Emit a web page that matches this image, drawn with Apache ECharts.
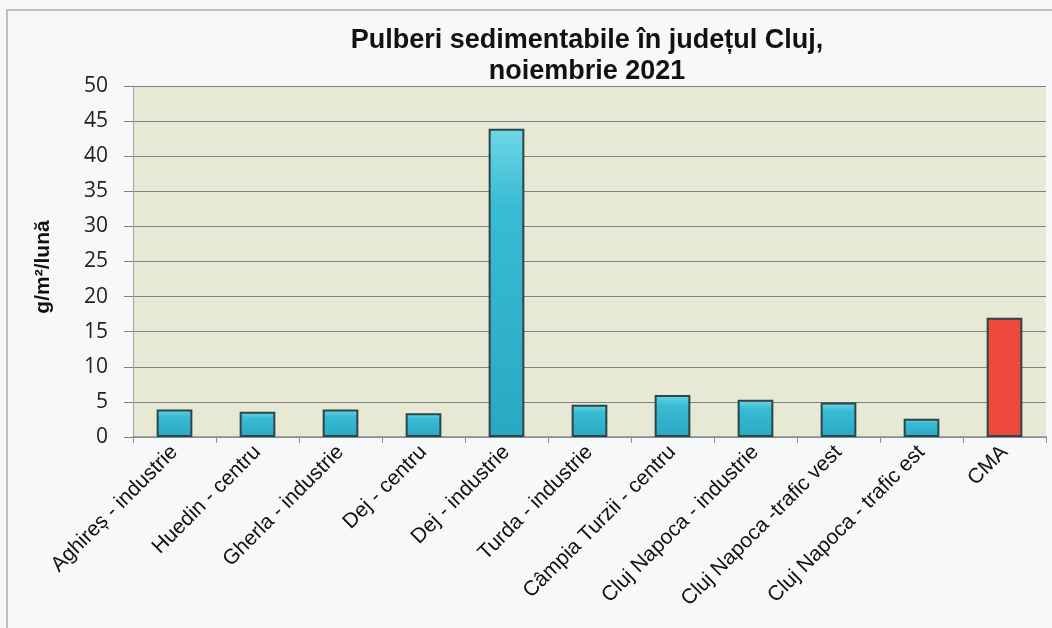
<!DOCTYPE html>
<html lang="ro">
<head>
    <meta charset="UTF-8">
    <title>Pulberi sedimentabile</title>
    <style>
        *{margin: 0; padding: 0;}
        body,html{width: 100%; height: 100%; background: #f7f8fa;}
        #chart{width: 1052px; height: 628px;}
    </style>
</head>
<body>
<div id="chart"></div>
<script src="https://cdn.jsdelivr.net/npm/echarts@6/dist/echarts.min.js"></script>
<script>
var stations = ['Aghireș - industrie', 'Huedin - centru', 'Gherla - industrie', 'Dej - centru',
    'Dej - industrie', 'Turda - industrie', 'Câmpia Turzii - centru', 'Cluj Napoca - industrie',
    'Cluj Napoca -trafic vest', 'Cluj Napoca - trafic est', 'CMA'];
var values = [3.9, 3.6, 3.9, 3.4, 43.9, 4.6, 6.0, 5.3, 4.9, 2.6, 17];
var yTicks = [0, 5, 10, 15, 20, 25, 30, 35, 40, 45, 50];

var cyan = new echarts.graphic.LinearGradient(0, 0, 0, 1, [
    {offset: 0, color: '#6fd6e6'},
    {offset: 0.25, color: '#38bcd3'},
    {offset: 1, color: '#2aa8c2'}
]);

var barData = [];
for (var i = 0; i < values.length; i++) {
    barData.push({
        value: values[i],
        itemStyle: stations[i] === 'CMA' ? {color: '#ee4a3b'} : {color: cyan}
    });
}

var option = {
    animation: false,
    title: {
        text: 'Pulberi sedimentabile în județul Cluj,\nnoiembrie 2021',
        left: 582,
        top: 20,
        textAlign: 'center',
        textStyle: {
            fontFamily: 'Liberation Sans',
            fontWeight: 'bold',
            fontSize: 27,
            lineHeight: 31,
            color: '#111'
        }
    },
    graphic: [
        {
            type: 'rect',
            shape: {x: 7, y: 10, width: 1100, height: 700},
            style: {fill: 'none', stroke: '#a9acb2', lineWidth: 1.5},
            silent: true
        },
        {
            type: 'text',
            x: 43,
            y: 267,
            rotation: Math.PI / 2,
            style: {
                text: 'g/m²/lună',
                fontFamily: 'Liberation Sans',
                fontWeight: 'bold',
                fontSize: 21,
                fill: '#111',
                align: 'center',
                verticalAlign: 'middle'
            }
        }
    ],
    grid: {
        left: 133,
        right: 6,
        top: 86,
        bottom: 191,
        show: true,
        backgroundColor: '#e8e9d4',
        borderWidth: 0
    },
    xAxis: {
        type: 'category',
        data: stations,
        axisLine: {lineStyle: {color: '#8a8f96', width: 1.5}},
        axisTick: {show: true, length: 6, lineStyle: {color: '#8a8f96'}},
        axisLabel: {
            interval: 0,
            rotate: 45,
            margin: 12,
            fontFamily: 'Liberation Sans',
            fontSize: 21,
            color: '#111'
        }
    },
    yAxis: {
        type: 'value',
        min: yTicks[0],
        max: yTicks[yTicks.length - 1],
        interval: 5,
        axisLine: {show: true, lineStyle: {color: '#a4a8a4'}},
        axisTick: {show: true, length: 9, lineStyle: {color: '#7d8088'}},
        splitLine: {lineStyle: {color: '#7d8088', width: 1.2}},
        axisLabel: {
            margin: 25,
            fontFamily: 'Open Sans',
            fontSize: 21,
            color: '#222'
        }
    },
    series: [{
        type: 'bar',
        data: barData,
        barWidth: '43%',
        itemStyle: {borderColor: '#2b4549', borderWidth: 2}
    }]
};

var myChart = echarts.init(document.getElementById('chart'));
myChart.setOption(option);
</script>
</body>
</html>
